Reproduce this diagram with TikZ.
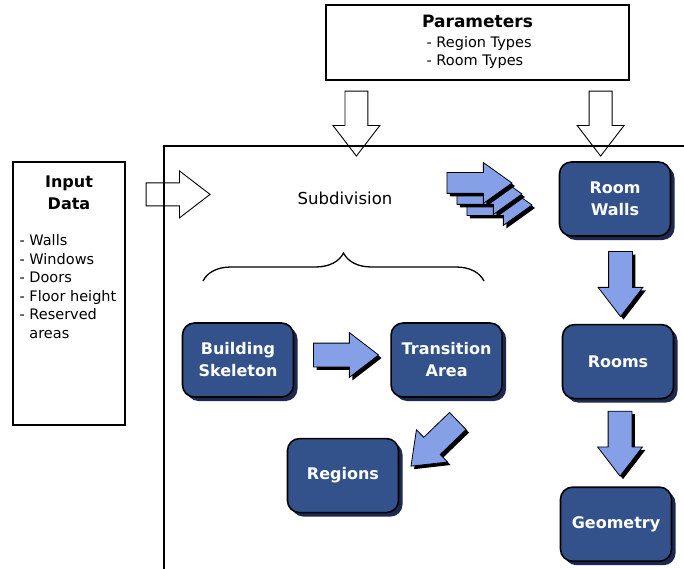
\documentclass[tikz,border=0pt]{standalone}
\usepackage{fontspec}
\setmainfont{DejaVu Sans}
\usetikzlibrary{shapes.arrows, shadows, decorations.pathreplacing, calc, positioning}
\definecolor{stageblue}{RGB}{51,82,139}
\definecolor{stageshade}{RGB}{28,40,78}
\definecolor{flowblue}{RGB}{134,160,232}
\newcommand{\headfont}{\fontsize{16}{22}\selectfont\bfseries}
\newcommand{\titlefont}{\fontsize{17}{22}\selectfont\bfseries}
\newcommand{\listfont}{\fontsize{14.5}{18.5}\selectfont}
\newcommand{\subfont}{\fontsize{16.5}{20}\selectfont}
\tikzstyle{stage} = [rectangle, draw, line width=1.6pt, fill=stageblue, text=white,
     font=\headfont, align=center, minimum width=111pt, minimum height=74pt, rounded corners=12pt,
     drop shadow={shadow xshift=4pt, shadow yshift=-4pt, fill=stageshade, opacity=1}]
\tikzstyle{flow} = [single arrow, draw, line width=0.8pt, fill=flowblue, minimum height=65pt,
     inner xsep=0pt, inner ysep=11.5pt, text height=0pt, text depth=0pt,
     single arrow head extend=10.5pt, single arrow tip angle=75,
     drop shadow={shadow xshift=3pt, shadow yshift=-3pt, fill=black, opacity=1}]
\tikzstyle{stack} = [flow, inner ysep=10pt, single arrow head extend=10pt, single arrow tip angle=71]
\tikzstyle{hollow} = [single arrow, draw, line width=0.9pt, fill=white, minimum height=65pt,
     inner xsep=0pt, inner ysep=11pt, text height=0pt, text depth=0pt,
     single arrow head extend=12pt, single arrow tip angle=75]
\tikzstyle{plainbox} = [rectangle, draw, line width=1.2pt, fill=white]
\tikzstyle{txt} = [inner sep=0pt, align=left]

\begin{document}
\begin{tikzpicture}[x=1pt, y=-1pt, node distance=87pt]
     \useasboundingbox (0,0) rectangle (684,569);
     % Inputs
     \node [plainbox, minimum width=303pt, minimum height=75pt] (params) at (477.5,42.5) {};
     \node [txt, font=\titlefont] (paramstitle) at ($(params.north)+(0,17)$) {Parameters};
     \node [txt, font=\listfont, anchor=west] (paramslist) at ($(params.north west)+(101,48)$) {- Region Types\\- Room Types};
     \node [plainbox, minimum width=112pt, minimum height=263pt] (input) at (69,293.5) {};
     \node [txt, font=\headfont, align=center] (inputtitle) at ($(input.north)+(0,31)$) {Input\\Data};
     \node [txt, font=\listfont, anchor=west] (inputlist) at ($(input.north west)+(7,125)$) {- Walls\\- Windows\\- Doors\\- Floor height\\- Reserved\\\phantom{- }areas};

     % Stages
     \node [stage] (walls) at (615,199) {Room\\Walls};
     \node [stage, below=of walls, xshift=3pt] (rooms) {Rooms};
     \node [stage, below=of rooms, xshift=-2pt] (geometry) {Geometry};
     \node [stage] (skeleton) at (238,360) {Building\\Skeleton};
     \node [stage, right=96pt of skeleton] (transition) {Transition\\Area};
     \node [stage, below left=40pt and -9pt of transition] (regions) {Regions};
     \node [txt, font=\subfont] (subdivision) at (345,198) {Subdivision};

     % Brace
     \coordinate (braceleft) at (203,281);
     \coordinate (braceright) at (484,281);
     \draw [line width=1.3pt, decorate, decoration={brace, amplitude=28pt}] (braceleft) -- (braceright);

     % Arrows
     \node [flow] (skel2trans) at ($(skeleton.east)!0.5!(transition.west)+(-4,-5)$) {};
     \node [flow, rotate=224] (trans2reg) at ($(transition.south)!0.5!(regions.east)+(17,1.5)$) {};
     \node [flow, rotate=-90] (walls2rooms) at ($(walls.south)!0.5!(rooms.north)+(4,-4)$) {};
     \node [flow, rotate=-90] (rooms2geo) at ($(rooms.south)!0.5!(geometry.north)+(3,-7)$) {};
     \foreach \k in {2,1,0}
          \node [stack] (fan\k) at ($(walls.west)+(-86.5+10*\k,-16+11*\k)$) {};
     \node [hollow, rotate=-90] (params2sub) at ($(params.south west)+(31,35.5)$) {};
     \node [hollow, rotate=-90] (params2walls) at ($(params.south east)+(-29,35.5)$) {};
     \node [hollow, minimum height=64pt] (input2sub) at ($(input.north east)+(45,33)$) {};

     % Frame
     \coordinate (frameright) at (684,146);
     \coordinate (framebottom) at (164,569);
     \draw [line width=1.3pt] (frameright) -| (framebottom);
\end{tikzpicture}
\end{document}
